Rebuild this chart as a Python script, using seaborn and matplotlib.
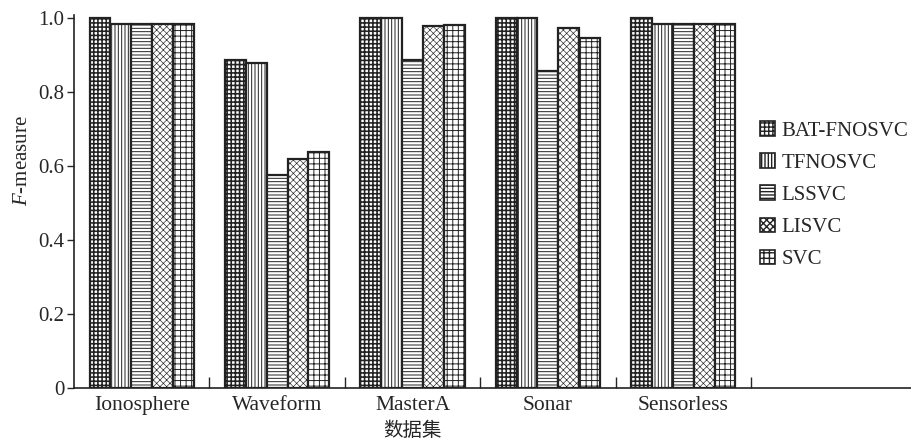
import matplotlib
matplotlib.use("Agg")
import matplotlib.pyplot as plt
from matplotlib.patches import Patch
import seaborn as sns
import pandas as pd

datasets = ["Ionosphere", "Waveform", "MasterA", "Sonar", "Sensorless"]
methods = ["BAT-FNOSVC", "TFNOSVC", "LSSVC", "LISVC", "SVC"]
bat_fnosvc = [1.000, 0.886, 1.000, 1.000, 1.000]
tfnosvc = [0.983, 0.879, 1.000, 1.000, 0.984]
lssvc = [0.983, 0.576, 0.887, 0.858, 0.984]
lisvc = [0.983, 0.620, 0.977, 0.973, 0.984]
svc = [0.983, 0.637, 0.982, 0.945, 0.984]
yticks = [0, 0.2, 0.4, 0.6, 0.8, 1.0]
ytick_labels = ["0", "0.2", "0.4", "0.6", "0.8", "1.0"]

series = [bat_fnosvc, tfnosvc, lssvc, lisvc, svc]
rows = []
for m, vals in zip(methods, series):
    for d, v in zip(datasets, vals):
        rows.append({"dataset": d, "method": m, "value": v})
df = pd.DataFrame(rows)

sns.set_style("ticks")
plt.rcParams["font.family"] = ["Liberation Serif", "Noto Sans CJK SC"]
plt.rcParams["mathtext.fontset"] = "custom"
plt.rcParams["mathtext.it"] = "Liberation Serif:italic"
plt.rcParams["mathtext.rm"] = "Liberation Serif"
plt.rcParams["hatch.color"] = "black"

fig = plt.figure(figsize=(9.11, 4.44), dpi=100)
ax = fig.add_axes([74 / 911, 56 / 444, (911 - 74) / 911, 373 / 444])

sns.barplot(data=df, x="dataset", y="value", hue="method", order=datasets,
            hue_order=methods, palette=["white"] * 5, edgecolor="#222222",
            linewidth=1.6, width=0.77, saturation=1, legend=False, ax=ax)

hatches = ["++++", "|||||", "-----", "xxxxx", "+++"]
hlw = [1.15, 0.7, 0.7, 0.45, 0.7]
for cont, h, lw in zip(ax.containers, hatches, hlw):
    for bar in cont:
        bar.set_hatch(h)
        if hasattr(bar, "set_hatch_linewidth"):
            bar.set_hatch_linewidth(lw)

ax.set_xlim(-0.5, (911 - 74) / 135.4 - 0.5)
ax.set_ylim(0, 1.008)
ax.set_yticks(yticks)
ax.set_yticklabels(ytick_labels)
ax.tick_params(axis="y", direction="out", length=5, width=1, labelsize=15, pad=2)
ax.set_xticks(range(len(datasets)))
ax.set_xticklabels(datasets)
ax.tick_params(axis="x", which="major", length=0, labelsize=15.5, pad=6)
ax.set_xticks([i + 0.5 for i in range(len(datasets))], minor=True)
ax.tick_params(axis="x", which="minor", direction="in", length=8, width=1)
for s in ["top", "right"]:
    ax.spines[s].set_visible(False)
for s in ["left", "bottom"]:
    ax.spines[s].set_linewidth(1.2)
    ax.spines[s].set_color("#222222")

ax.set_ylabel("$F$-measure", fontsize=15)
ax.yaxis.set_label_coords(-0.050, 0.609)
ax.set_xlabel("数据集", fontsize=14)
ax.xaxis.set_label_coords((412 - 74) / 837, -0.09)

handles = []
for h, lw in zip(hatches, hlw):
    p = Patch(facecolor="white", edgecolor="#222222", hatch=h, linewidth=1.2)
    if hasattr(p, "set_hatch_linewidth"):
        p.set_hatch_linewidth(lw)
    handles.append(p)
fig.legend(handles, methods, loc="upper left", bbox_to_anchor=(752 / 911, 1 - 113 / 444),
           frameon=False, fontsize=15, handlelength=0.7, handleheight=0.7,
           handletextpad=0.3, labelspacing=0.6, borderaxespad=0)

fig.savefig("out.png", dpi=100)
